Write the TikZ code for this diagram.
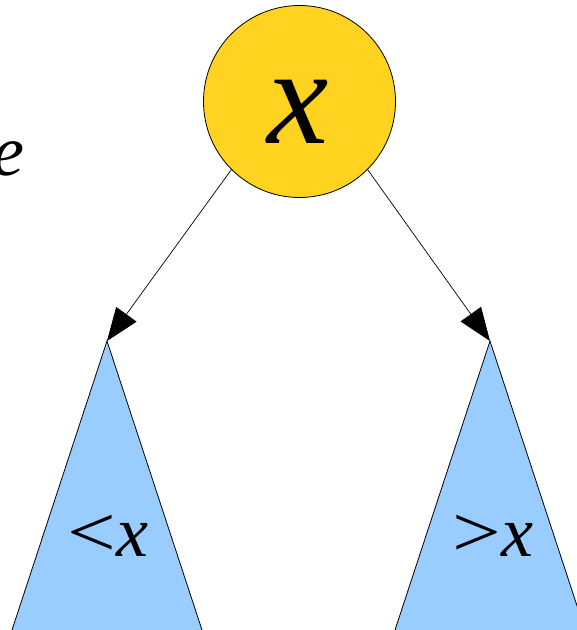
\documentclass[tikz,border=0pt]{standalone}
\usepackage{fontspec}
\setmainfont{Liberation Serif}
\usetikzlibrary{arrows.meta}
\definecolor{nodeyellow}{HTML}{FFD320}
\definecolor{treeblue}{HTML}{99CCFF}
\begin{document}
\begin{tikzpicture}[x=1pt,y=-1pt,
  rootnode/.style={circle, draw=black, line width=0.8pt, fill=nodeyellow, minimum size=192pt, inner sep=0pt},
  subtree/.style={draw=black, line width=0.8pt, fill=treeblue},
  link/.style={draw=black, line width=0.7pt, -{Triangle[length=33pt,width=25pt]}},
  bigtext/.style={font=\fontsize{138}{140}\selectfont\itshape, inner sep=0pt},
  midtext/.style={font=\fontsize{72}{74}\selectfont, inner sep=0pt}]
\useasboundingbox (0,0) rectangle (577,630);
\coordinate (lt) at (107,341);
\coordinate (rt) at (490,341);
\begin{scope}
  \clip (0,0) rectangle (577,630);
  \draw[subtree] (lt) -- (-11,700) -- (225,700) -- cycle;
  \draw[subtree] (rt) -- (372,700) -- (608,700) -- cycle;
\end{scope}
\node[rootnode] (root) at (299.5,101.5) {};
\node[bigtext, anchor=base] (rootlabel) at (298,143) {x};
\node[midtext, anchor=base] (ltlabel) at (108,556) {\scalebox{1.2}[1.0]{<}\textit{x}};
\node[midtext, anchor=base] (rtlabel) at (493,556) {\scalebox{1.2}[1.0]{>}\textit{x}};
\node[midtext, anchor=base east] (cut) at (25,175) {\textit{e}};
\draw[link] (root.225) -- (lt);
\draw[link] (root.315) -- (rt);
\end{tikzpicture}
\end{document}
